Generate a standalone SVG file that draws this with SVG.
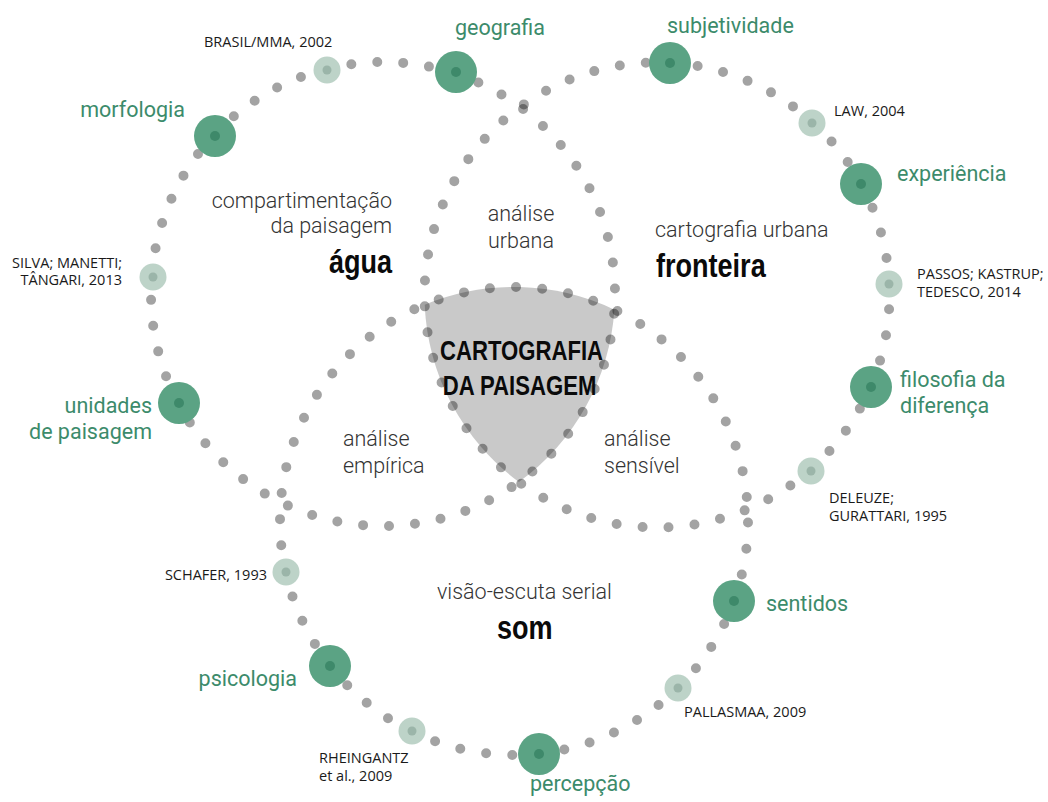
<svg xmlns="http://www.w3.org/2000/svg" width="1048" height="802" viewBox="0 0 1048 802">
<style>
.ring{fill:none;stroke:#000;stroke-opacity:0.36;stroke-width:10;stroke-linecap:round}
.big{fill:#5ba384}
.bigc{fill:#3e896a}
.lt{fill:#bdd3c8}
.ltc{fill:#9bb5a9}
.gl{font-family:Roboto,"Liberation Sans",sans-serif;font-weight:400;font-size:21.5px;fill:#3c8b6b}
.gr{font-family:Roboto,"Liberation Sans",sans-serif;font-weight:300;font-size:21.5px;fill:#333}
.bd{font-family:"Liberation Sans",Arial,sans-serif;font-weight:700;fill:#0a0a0a}
.ct{font-family:"Open Sans","Liberation Sans",sans-serif;font-size:14.5px;fill:#1a1a1a}
</style>
<rect width="1048" height="802" fill="#fff"/>
<g id="center-shape">
<path d="M424.7 304.7 A234 234 0 0 1 614.4 309.7 A232 232 0 0 1 518.9 482 A232.5 232.5 0 0 1 424.7 304.7 Z" fill="#c9c9c9"/>
</g>
<g id="connectors">
<circle class="ring" cx="383" cy="294" r="232" stroke-dasharray="0 26.03" stroke-dashoffset="-19.8"/>
<circle class="ring" cx="657" cy="295" r="232.5" stroke-dasharray="0 26.086" stroke-dashoffset="-14.35"/>
<circle class="ring" cx="514" cy="521" r="234" stroke-dasharray="0 26.255" stroke-dashoffset="-1.6"/>
</g>
<g id="n-geografia"><circle class="big" cx="456" cy="72" r="21"/><circle class="bigc" cx="456" cy="72" r="5"/><text class="gl" x="455" y="35">geografia</text></g>
<g id="n-morfologia"><circle class="big" cx="215" cy="136" r="21"/><circle class="bigc" cx="215" cy="136" r="5"/><text class="gl" x="185" y="117" text-anchor="end">morfologia</text></g>
<g id="n-subjetividade"><circle class="big" cx="670" cy="63" r="21"/><circle class="bigc" cx="670" cy="63" r="5"/><text class="gl" x="667" y="33">subjetividade</text></g>
<g id="n-experiencia"><circle class="big" cx="861" cy="184" r="21"/><circle class="bigc" cx="861" cy="184" r="5"/><text class="gl" x="897" y="181">experiência</text></g>
<g id="n-filosofia"><circle class="big" cx="871" cy="387" r="21"/><circle class="bigc" cx="871" cy="387" r="5"/><text class="gl" x="900" y="387">filosofia da</text><text class="gl" x="900" y="413">diferença</text></g>
<g id="n-unidades"><circle class="big" cx="179" cy="403" r="21"/><circle class="bigc" cx="179" cy="403" r="5"/><text class="gl" x="152" y="413" text-anchor="end">unidades</text><text class="gl" x="152" y="439" text-anchor="end">de paisagem</text></g>
<g id="n-sentidos"><circle class="big" cx="734" cy="601" r="21"/><circle class="bigc" cx="734" cy="601" r="5"/><text class="gl" x="766" y="611">sentidos</text></g>
<g id="n-psicologia"><circle class="big" cx="330" cy="666" r="21"/><circle class="bigc" cx="330" cy="666" r="5"/><text class="gl" x="297" y="686" text-anchor="end">psicologia</text></g>
<g id="n-percepcao"><circle class="big" cx="539" cy="754" r="21"/><circle class="bigc" cx="539" cy="754" r="5"/><text class="gl" x="530" y="791">percepção</text></g>
<g id="n-brasil"><circle class="lt" cx="327" cy="70" r="13.5"/><circle class="ltc" cx="327" cy="70" r="4.5"/><text class="ct" x="204" y="47">BRASIL/MMA, 2002</text></g>
<g id="n-law"><circle class="lt" cx="812" cy="123" r="13.5"/><circle class="ltc" cx="812" cy="123" r="4.5"/><text class="ct" x="834" y="116">LAW, 2004</text></g>
<g id="n-silva"><circle class="lt" cx="153" cy="277" r="13.5"/><circle class="ltc" cx="153" cy="277" r="4.5"/><text class="ct" x="122" y="268" text-anchor="end">SILVA; MANETTI;</text><text class="ct" x="122" y="285" text-anchor="end">TÂNGARI, 2013</text></g>
<g id="n-passos"><circle class="lt" cx="889" cy="284" r="13.5"/><circle class="ltc" cx="889" cy="284" r="4.5"/><text class="ct" x="917" y="279">PASSOS; KASTRUP;</text><text class="ct" x="917" y="297">TEDESCO, 2014</text></g>
<g id="n-deleuze"><circle class="lt" cx="811" cy="471" r="13.5"/><circle class="ltc" cx="811" cy="471" r="4.5"/><text class="ct" x="829" y="503">DELEUZE;</text><text class="ct" x="829" y="521">GURATTARI, 1995</text></g>
<g id="n-schafer"><circle class="lt" cx="286" cy="572" r="13.5"/><circle class="ltc" cx="286" cy="572" r="4.5"/><text class="ct" x="267" y="580" text-anchor="end">SCHAFER, 1993</text></g>
<g id="n-rheingantz"><circle class="lt" cx="412" cy="731" r="13.5"/><circle class="ltc" cx="412" cy="731" r="4.5"/><text class="ct" x="319" y="763">RHEINGANTZ</text><text class="ct" x="319" y="781">et al., 2009</text></g>
<g id="n-pallasmaa"><circle class="lt" cx="678" cy="688" r="13.5"/><circle class="ltc" cx="678" cy="688" r="4.5"/><text class="ct" x="684" y="717">PALLASMAA, 2009</text></g>
<g id="area-agua"><text class="gr" x="392" y="208" text-anchor="end">compartimentação</text><text class="gr" x="392" y="233" text-anchor="end">da paisagem</text><text class="bd" transform="translate(392 273) scale(0.82 1)" x="0" y="0" font-size="33" text-anchor="end">água</text></g>
<g id="area-fronteira"><text class="gr" x="655" y="237">cartografia urbana</text><text class="bd" transform="translate(656 277) scale(0.82 1)" x="0" y="0" font-size="33">fronteira</text></g>
<g id="area-som"><text class="gr" x="437" y="599">visão-escuta serial</text><text class="bd" transform="translate(497 639) scale(0.82 1)" x="0" y="0" font-size="33">som</text></g>
<g id="area-urbana"><text class="gr" x="521" y="221" text-anchor="middle">análise</text><text class="gr" x="521" y="248" text-anchor="middle">urbana</text></g>
<g id="area-empirica"><text class="gr" x="343" y="446">análise</text><text class="gr" x="343" y="473">empírica</text></g>
<g id="area-sensivel"><text class="gr" x="604" y="446">análise</text><text class="gr" x="604" y="473">sensível</text></g>
<g id="n-cartografia"><text class="bd" transform="translate(521.5 360) scale(0.82 1)" x="0" y="0" font-size="27" text-anchor="middle">CARTOGRAFIA</text><text class="bd" transform="translate(519.5 395) scale(0.82 1)" x="0" y="0" font-size="27" text-anchor="middle">DA PAISAGEM</text></g>
</svg>
